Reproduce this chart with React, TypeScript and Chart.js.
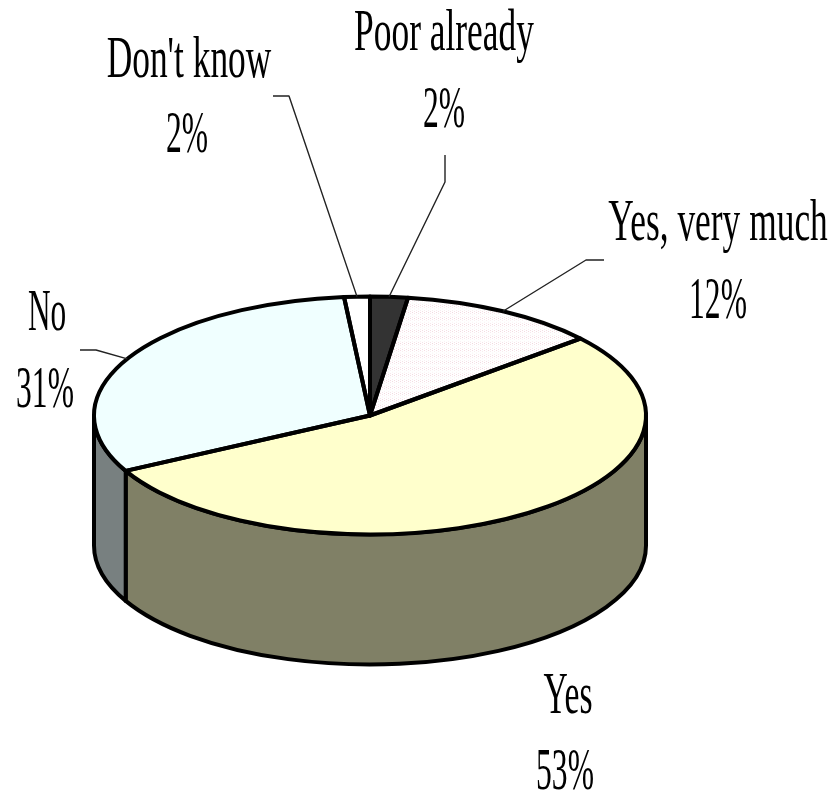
import React, { useEffect, useRef } from "react";
import { Chart, registerables } from "chart.js";

Chart.register(...registerables);

const categories = ["Poor already", "Yes, very much", "Yes", "No", "Don't know"];
const shares = [2.2, 11.6, 53.49, 31.2, 1.5];
const percentLabels = ["2%", "12%", "53%", "31%", "2%"];

const topColors = ["#333333", "pattern", "#FFFFCC", "#F0FFFF", "#FFFFFF"];
const sideColors = ["#1A1A1A", "#808080", "#808066", "#788080", "#808080"];

const SQUASH = 119 / 276;
const DEPTH = 130;
const LINE = 4;
const FONT_PX = 59;
const PERCENT_SQUEEZE = 0.535;

// text placement: [centre x, name baseline, percent centre x, percent baseline]
const labelPlaces = [
  [444, 50, 444, 127],
  [718, 240, 718, 318],
  [568, 713, 565, 789],
  [47, 330, 45, 407],
  [189, 77, 187, 152],
];
const nameSqueeze = [0.6, 0.6, 0.57, 0.53, 0.6];
// leader polylines as points beyond the slice's rim point; null = no leader
const leaderPaths: (number[][] | null)[] = [
  [[445, 182], [445, 155]],
  [[586, 260], [604, 260]],
  null,
  [[96, 350], [80, 350]],
  [[289, 96], [273, 96]],
];

function dotted(): CanvasPattern | string {
  const c = document.createElement("canvas");
  c.width = 4;
  c.height = 4;
  const g = c.getContext("2d");
  if (!g) return "#FBF3F5";
  g.fillStyle = "#FFFFFF";
  g.fillRect(0, 0, 4, 4);
  g.fillStyle = "#F3D6DE";
  g.fillRect(0, 0, 1, 1);
  g.fillRect(2, 2, 1, 1);
  const p = g.createPattern(c, "repeat");
  return p || "#FBF3F5";
}

const pie3d = {
  id: "pie3d",
  beforeDatasetsDraw(chart: any) {
    const ctx = chart.ctx;
    const arcs = chart.getDatasetMeta(0).data;
    ctx.save();
    ctx.lineWidth = LINE;
    ctx.lineJoin = "round";
    ctx.strokeStyle = "#000";
    arcs.forEach((arc: any, i: number) => {
      const a = Math.max(arc.startAngle, 0);
      const b = Math.min(arc.endAngle, Math.PI);
      if (b <= a) return;
      const rx = arc.outerRadius;
      const ry = rx * SQUASH;
      ctx.beginPath();
      ctx.ellipse(arc.x, arc.y, rx, ry, 0, a, b);
      ctx.ellipse(arc.x, arc.y + DEPTH, rx, ry, 0, b, a, true);
      ctx.closePath();
      ctx.fillStyle = sideColors[i];
      ctx.fill();
      ctx.stroke();
    });
    ctx.restore();
  },
  beforeDatasetDraw(chart: any) {
    const ctx = chart.ctx;
    const arc = chart.getDatasetMeta(0).data[0];
    ctx.save();
    ctx.translate(arc.x, arc.y);
    ctx.scale(1, SQUASH);
    ctx.translate(-arc.x, -arc.y);
  },
  afterDatasetDraw(chart: any) {
    chart.ctx.restore();
  },
  afterDatasetsDraw(chart: any) {
    const ctx = chart.ctx;
    const arcs = chart.getDatasetMeta(0).data;
    ctx.save();
    ctx.strokeStyle = "#000";
    ctx.lineJoin = "round";
    ctx.lineWidth = LINE;
    arcs.forEach((arc: any) => {
      const rx = arc.outerRadius;
      ctx.beginPath();
      ctx.moveTo(arc.x, arc.y);
      ctx.ellipse(arc.x, arc.y, rx, rx * SQUASH, 0, arc.startAngle, arc.endAngle);
      ctx.closePath();
      ctx.stroke();
    });
    ctx.lineWidth = 1.4;
    ctx.strokeStyle = "#222";
    arcs.forEach((arc: any, i: number) => {
      const path = leaderPaths[i];
      if (!path) return;
      const mid = (arc.startAngle + arc.endAngle) / 2;
      const rx = arc.outerRadius;
      ctx.beginPath();
      ctx.moveTo(arc.x + rx * Math.cos(mid), arc.y + rx * SQUASH * Math.sin(mid));
      path.forEach((p) => ctx.lineTo(p[0], p[1]));
      ctx.stroke();
    });
    ctx.fillStyle = "#000";
    ctx.font = `${FONT_PX}px "Liberation Serif"`;
    ctx.textAlign = "center";
    ctx.textBaseline = "alphabetic";
    const put = (text: string, x: number, y: number, squeeze: number) => {
      ctx.save();
      ctx.translate(x, y);
      ctx.scale(squeeze, 1);
      ctx.fillText(text, 0, 0);
      ctx.restore();
    };
    categories.forEach((name, i) => {
      const [nx, ny, px, py] = labelPlaces[i];
      put(name, nx, ny, nameSqueeze[i]);
      put(percentLabels[i], px, py, PERCENT_SQUEEZE);
    });
    ctx.restore();
  },
};

export default function App() {
  const ref = useRef<HTMLCanvasElement>(null);
  useEffect(() => {
    document.body.style.margin = "0";
    const canvas = ref.current;
    if (!canvas) return;
    const pattern = dotted();
    const chart = new Chart(canvas, {
      type: "pie",
      data: {
        labels: categories,
        datasets: [
          {
            data: shares,
            backgroundColor: topColors.map((c) => (c === "pattern" ? pattern : c)) as any,
            borderWidth: 0,
          },
        ],
      },
      options: {
        responsive: false,
        animation: false,
        devicePixelRatio: 1,
        layout: { padding: { left: 94, right: 190, top: 139.5, bottom: 103.5 } },
        plugins: { legend: { display: false }, tooltip: { enabled: false } },
      },
      plugins: [pie3d as any],
    });
    return () => chart.destroy();
  }, []);
  return <canvas ref={ref} width={836} height={795} style={{ display: "block", background: "#fff" }} />;
}
